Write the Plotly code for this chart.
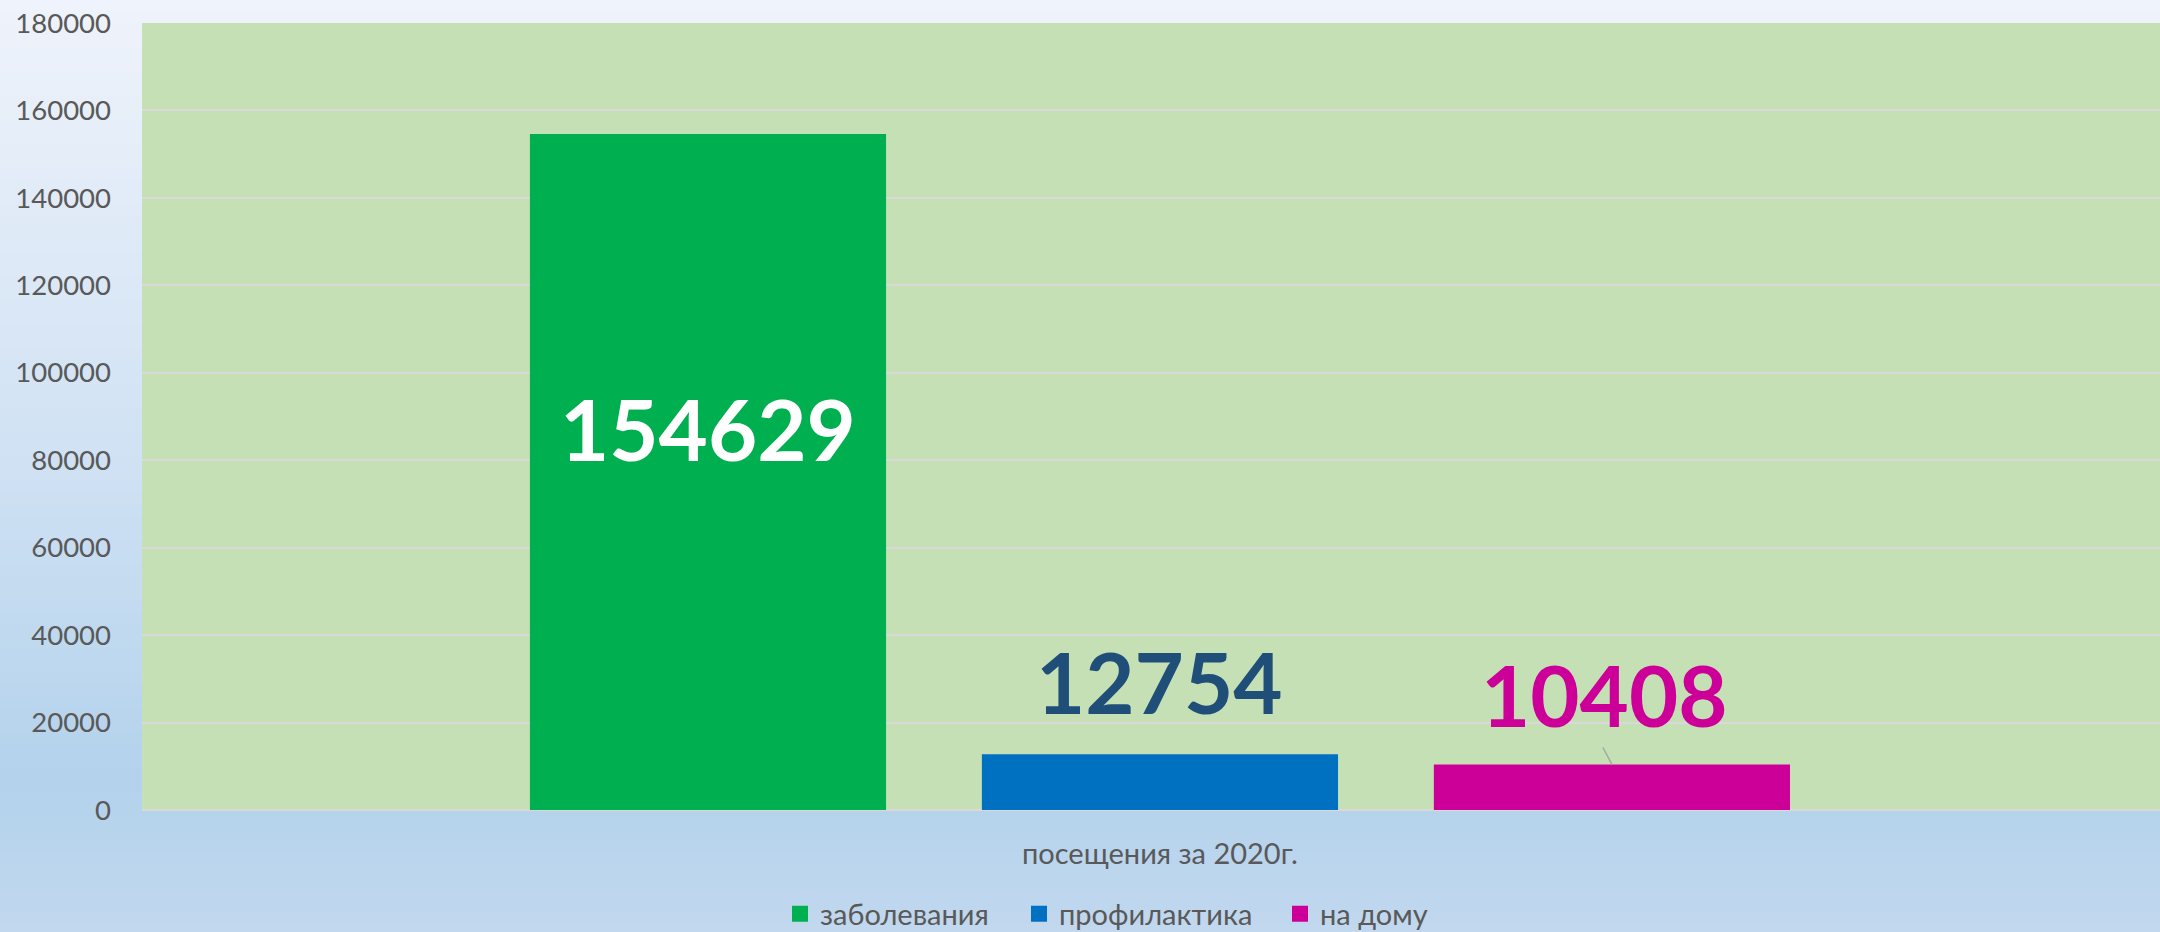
import plotly.graph_objects as go

# ---- data ----
category = ["посещения за 2020г."]
series_names = ["заболевания", "профилактика", "на дому"]
series_values = [154629, 12754, 10408]
y_tick_values = [0, 20000, 40000, 60000, 80000, 100000, 120000, 140000, 160000, 180000]

# ---- style ----
bar_colors = ["#00B050", "#0070C0", "#CC0099"]
label_colors = ["#FFFFFF", "#1F4E79", "#CC0099"]
legend_widths = [194, 216, 110]
W, H = 2160, 932
M_L, M_R, M_T, M_B = 142, 0, 23, 122
plot_h = H - M_T - M_B
BARGAP = 0.334
BARGROUPGAP = 0.212
FONT = "Lato, 'Open Sans', sans-serif"
TXT = "#595959"

fig = go.Figure()
for name, val, col in zip(series_names, series_values, bar_colors):
    fig.add_trace(go.Bar(x=category, y=[val], name=name, showlegend=False,
                         marker=dict(color=col, line=dict(width=0))))
# legend entries with larger square swatches
for name, col, lw in zip(series_names, bar_colors, legend_widths):
    fig.add_trace(go.Scatter(x=[None], y=[None], mode="markers", name=name, legendwidth=lw,
                             marker=dict(symbol="square", size=17, color=col, line=dict(width=0)),
                             hoverinfo="skip"))

# gradient background bands (chart area fill)
stops = [(0, (239, 243, 251)), (470, (207, 225, 243)), (780, (179, 210, 236)), (932, (193, 216, 238))]
def col_at(py):
    for (p0, c0), (p1, c1) in zip(stops[:-1], stops[1:]):
        if p0 <= py <= p1:
            t = (py - p0) / (p1 - p0)
            return "rgb(%d,%d,%d)" % tuple(round(a + (b - a) * t) for a, b in zip(c0, c1))
    return "rgb(%d,%d,%d)" % stops[-1][1]

shapes = []
step = 12
for py in range(0, H, step):
    y_top = (H - M_B - py) / plot_h
    y_bot = (H - M_B - (py + step + 1)) / plot_h
    shapes.append(dict(type="rect", xref="paper", yref="paper", x0=-0.2, x1=1.1,
                       y0=y_bot, y1=y_top, fillcolor=col_at(py + step / 2),
                       line=dict(width=0), layer="below"))
shapes.append(dict(type="rect", xref="paper", yref="paper", x0=0, x1=1, y0=0, y1=1,
                   fillcolor="#C5E0B4", line=dict(width=0), layer="below"))

# data labels
n = len(series_values)
slot = (1 - BARGAP) / n
offsets = [(i - (n - 1) / 2) * slot for i in range(n)]
annotations = []
for i, (val, col) in enumerate(zip(series_values, label_colors)):
    if i == 0:
        y, ysh, xsh = val / 2, 44, 0
    else:
        y, ysh, xsh = val, (73 if i == 1 else 70), (-7 if i == 2 else 0)
    annotations.append(dict(x=offsets[i], y=y, xref="x", yref="y", text=str(val), showarrow=False,
                            yanchor="middle", xanchor="center", yshift=ysh, xshift=xsh,
                            font=dict(family=FONT, size=85, color=col, weight="bold")))

# leader line for the last label
shapes.append(dict(type="line", xref="x", yref="y", xsizemode="pixel", ysizemode="pixel",
                   xanchor=offsets[2], yanchor=series_values[2], x0=-9, x1=0, y0=17, y1=0,
                   line=dict(color="#A6A6A6", width=1.5), layer="above"))

fig.update_layout(
    width=W, height=H,
    margin=dict(l=M_L, r=M_R, t=M_T, b=M_B, pad=0, autoexpand=False),
    paper_bgcolor="rgb(193,216,238)",
    plot_bgcolor="rgba(0,0,0,0)",
    barmode="group", bargap=BARGAP, bargroupgap=BARGROUPGAP,
    font=dict(family=FONT, size=29, color=TXT),
    shapes=shapes, annotations=annotations,
    showlegend=True,
    legend=dict(orientation="h", x=(780 - M_L) / (W - M_L - M_R), xanchor="left",
                y=-(914 - (H - M_B)) / plot_h, yanchor="middle",
                font=dict(family=FONT, size=29, color=TXT), bgcolor="rgba(0,0,0,0)",
                itemwidth=30, tracegroupgap=0),
    xaxis=dict(type="category", range=[-0.5, 0.4912], showgrid=False, showline=False,
               ticks="", ticklabelstandoff=24, tickfont=dict(size=29, color=TXT), zeroline=False),
    yaxis=dict(range=[0, 180000], tickvals=y_tick_values, showgrid=True, gridcolor="#D9D9D9",
               gridwidth=2, zeroline=True, zerolinecolor="#D9D9D9", zerolinewidth=2,
               showline=False, ticks="", ticklabelstandoff=30, tickfont=dict(size=27.5, color=TXT),
               tickformat="d"),
)

fig.write_html("out.html", config={"displayModeBar": False},
               post_script="document.body.style.margin='0';")
